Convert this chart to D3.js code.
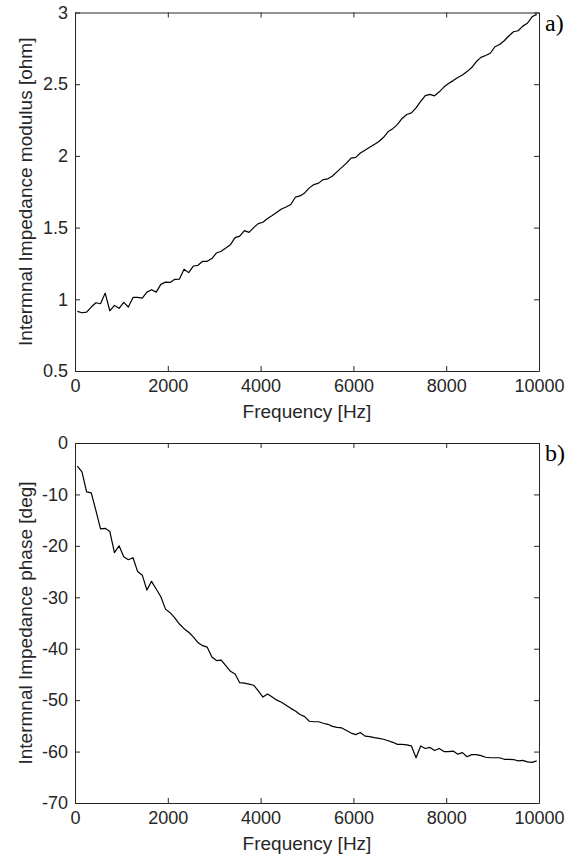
<!DOCTYPE html>
<html>
<head>
<meta charset="utf-8">
<script src="https://cdn.jsdelivr.net/npm/d3@7"></script>
<style>
  body { margin: 0; background: #fff; }
  svg text { font-family: "Liberation Sans", Arial, sans-serif; fill: #262626; }
</style>
</head>
<body>
<div id="app"></div>
<script>
/////////DATA//////////

const freq = [
  50, 150, 250, 350, 450, 550, 650, 750, 850, 950,
  1050, 1150, 1250, 1350, 1450, 1550, 1650, 1750, 1850, 1950,
  2050, 2150, 2250, 2350, 2450, 2550, 2650, 2750, 2850, 2950,
  3050, 3150, 3250, 3350, 3450, 3550, 3650, 3750, 3850, 3950,
  4050, 4150, 4250, 4350, 4450, 4550, 4650, 4750, 4850, 4950,
  5050, 5150, 5250, 5350, 5450, 5550, 5650, 5750, 5850, 5950,
  6050, 6150, 6250, 6350, 6450, 6550, 6650, 6750, 6850, 6950,
  7050, 7150, 7250, 7350, 7450, 7550, 7650, 7750, 7850, 7950,
  8050, 8150, 8250, 8350, 8450, 8550, 8650, 8750, 8850, 8950,
  9050, 9150, 9250, 9350, 9450, 9550, 9650, 9750, 9850, 9950
];

const modulus = [
  0.916, 0.906, 0.911, 0.946, 0.976, 0.969, 1.043, 0.920, 0.957, 0.937,
  0.979, 0.946, 1.013, 1.013, 1.008, 1.050, 1.067, 1.050, 1.104, 1.120,
  1.118, 1.139, 1.141, 1.209, 1.186, 1.232, 1.237, 1.265, 1.265, 1.284,
  1.323, 1.335, 1.358, 1.381, 1.430, 1.441, 1.479, 1.467, 1.500, 1.528,
  1.537, 1.563, 1.584, 1.607, 1.630, 1.644, 1.661, 1.712, 1.721, 1.742,
  1.777, 1.800, 1.810, 1.835, 1.840, 1.860, 1.890, 1.920, 1.950, 1.985,
  1.990, 2.020, 2.040, 2.060, 2.080, 2.100, 2.130, 2.170, 2.190, 2.220,
  2.261, 2.289, 2.300, 2.335, 2.380, 2.420, 2.429, 2.419, 2.447, 2.480,
  2.505, 2.525, 2.547, 2.564, 2.588, 2.616, 2.658, 2.687, 2.700, 2.716,
  2.761, 2.777, 2.803, 2.836, 2.866, 2.873, 2.905, 2.925, 2.970, 2.987
];

const phase = [
  -4.5, -5.6, -9.5, -9.7, -13.1, -16.7, -16.6, -17.2, -21.3, -20.0,
  -22.1, -22.7, -22.3, -25.0, -25.7, -28.6, -26.9, -28.4, -29.9, -32.3,
  -33.0, -34.0, -35.2, -36.1, -36.8, -37.7, -38.8, -39.4, -39.7, -41.6,
  -42.3, -42.2, -43.3, -44.4, -44.9, -46.6, -46.7, -46.9, -47.1, -48.2,
  -49.4, -48.8, -49.4, -50.0, -50.4, -51.0, -51.6, -52.1, -52.8, -53.2,
  -54.1, -54.2, -54.2, -54.5, -54.7, -55.1, -55.3, -55.4, -55.9, -56.4,
  -56.7, -56.3, -57.0, -57.1, -57.3, -57.45, -57.6, -57.9, -58.2, -58.6,
  -58.6, -58.7, -58.9, -61.2, -58.9, -59.4, -59.2, -59.8, -59.4, -60.0,
  -60.0, -59.9, -60.5, -60.2, -61.0, -60.6, -60.6, -60.8, -61.1, -61.2,
  -61.2, -61.2, -61.5, -61.5, -61.55, -61.8, -61.7, -62.0, -62.1, -61.8
];

const freqTicks = [0, 2000, 4000, 6000, 8000, 10000];
const modulusTicks = [0.5, 1, 1.5, 2, 2.5, 3];
const phaseTicks = [-70, -60, -50, -40, -30, -20, -10, 0];

/////////SVG//////////

const svg = d3.select('#app')
  .append('svg')
  .attr('width', 582)
  .attr('height', 858);

const left = 75;
const right = 539;
const tick = 5;

/////////PANEL//////////

function panel(top, bottom, values, yDomain, yTicks, yLabel, tag) {
  const xScale = d3.scaleLinear().domain([0, 10000]).range([left, right]);
  const yScale = d3.scaleLinear().domain(yDomain).range([bottom, top]);

  const g = svg.append('g');

  const xAxis = d3.axisBottom(xScale).tickValues(freqTicks)
    .tickSizeInner(-tick).tickSizeOuter(0).tickPadding(8).tickFormat(d3.format('d'));
  const yAxis = d3.axisLeft(yScale).tickValues(yTicks)
    .tickSizeInner(-tick).tickSizeOuter(0).tickPadding(7).tickFormat(d => String(d));

  const gx = g.append('g').attr('transform', 'translate(0,' + bottom + ')').call(xAxis);
  const gy = g.append('g').attr('transform', 'translate(' + left + ',0)').call(yAxis);

  // box: top and right edges with inward ticks, no labels
  g.append('g').attr('transform', 'translate(0,' + top + ')')
    .call(d3.axisTop(xScale).tickValues(freqTicks).tickSizeInner(-tick).tickSizeOuter(0).tickFormat(''));
  g.append('g').attr('transform', 'translate(' + right + ',0)')
    .call(d3.axisRight(yScale).tickValues(yTicks).tickSizeInner(-tick).tickSizeOuter(0).tickFormat(''));

  g.selectAll('.domain, .tick line').attr('stroke', '#262626').attr('stroke-width', 1);
  g.selectAll('g').attr('font-family', null).attr('font-size', null);
  gx.selectAll('text').style('font-size', '18px');
  gy.selectAll('text').style('font-size', '18px');

  const line = d3.line()
    .x((d, i) => xScale(freq[i]))
    .y(d => yScale(d));

  g.append('path')
    .datum(values)
    .attr('fill', 'none')
    .attr('stroke', '#000')
    .attr('stroke-width', 1.2)
    .attr('stroke-linejoin', 'round')
    .attr('d', line);

  g.append('text')
    .attr('x', (left + right) / 2)
    .attr('y', bottom + 47)
    .attr('text-anchor', 'middle')
    .style('font-size', '19px')
    .text('Frequency [Hz]');

  g.append('text')
    .attr('transform', 'translate(32,' + ((top + bottom) / 2) + ') rotate(-90)')
    .attr('text-anchor', 'middle')
    .style('font-size', '19px')
    .text(yLabel);

  g.append('text')
    .attr('x', 545)
    .attr('y', top + 18)
    .style('font-family', '"Liberation Serif", "Times New Roman", serif')
    .style('font-size', '24px')
    .style('fill', '#000')
    .text(tag);
}

panel(12.5, 371, modulus, [0.5, 3], modulusTicks, 'Intermnal Impedance modulus [ohm]', 'a)');
panel(443, 803, phase, [-70, 0], phaseTicks, 'Intermnal Impedance phase [deg]', 'b)');
</script>
</body>
</html>
